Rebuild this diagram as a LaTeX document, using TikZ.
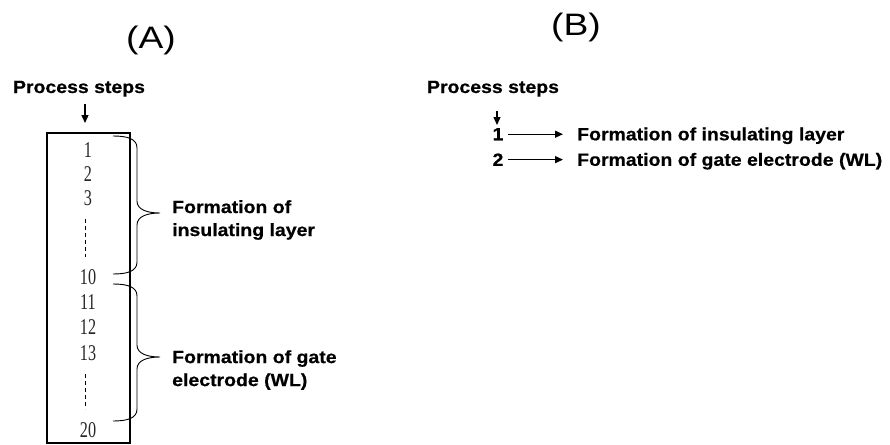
\documentclass[tikz,border=0pt]{standalone}
\usepackage{fontspec}
\setmainfont{Liberation Sans}
\newfontfamily\labfont{Liberation Sans}[FakeStretch=1.1,BoldFeatures={FakeBold=0.6}]
\newfontfamily\ttlfont{Liberation Sans}[FakeStretch=1.2]
\newfontfamily\numfont{Liberation Serif}[FakeStretch=0.72]
\usetikzlibrary{arrows.meta}
\begin{document}
\begin{tikzpicture}[x=1pt,y=-1pt,
  lbl/.style={font=\labfont\bfseries\fontsize{17.7}{23}\selectfont, inner sep=0pt, align=left},
  num/.style={font=\numfont\fontsize{22.5}{22.5}\selectfont, text=black!85, inner sep=0pt},
  ttl/.style={font=\ttlfont\fontsize{31}{31}\selectfont, inner sep=0pt},
  arr/.style={line width=1.3pt, -{Triangle[length=8pt,width=7pt]}},
  brc/.style={line width=0.9pt}]
\useasboundingbox (0,0) rectangle (890,444);
% (A)
\node[ttl] (titleA) at (151,40) {(A)};
\node[lbl, anchor=base] (stepsA) at (79,93) {Process steps};
\coordinate (downA) at (85,104);
\coordinate (boxtopA) at (85,123);
\draw[arr] (downA) -- (boxtopA);
\node[draw, line width=2.8pt, minimum width=83, minimum height=310] (box) at (88.5,288) {};
\foreach \n/\y in {1/150,2/174,3/198,10/277,11/302,12/327,13/353,20/430} {
  \node[num] (n\n) at (88,\y) {\n};
}
\draw[dashed, dash pattern=on 4pt off 3pt, line width=0.8pt] (n3.south) ++(-3,13) -- ++(0,38);
\draw[dashed, dash pattern=on 4pt off 3pt, line width=0.8pt] (n13.south) ++(-3,13) -- ++(0,35);
\foreach \t/\m/\b in {136/213/274,284/357/421} {
  \draw[brc] (113,\t) .. controls (128,\t) and (137,\t+3) .. (137,\t+12)
    -- (137,\m-12) .. controls (137,\m-3) and (148,\m) .. (160,\m)
    .. controls (148,\m) and (137,\m+3) .. (137,\m+12)
    -- (137,\b-12) .. controls (137,\b-3) and (128,\b) .. (113,\b);
}
\node[lbl, anchor=west] (insA) at (172,220) {Formation of\\insulating layer};
\node[lbl, anchor=west] (gateA) at (172,370) {Formation of gate\\electrode (WL)};
% (B)
\node[ttl] (titleB) at (576,27) {(B)};
\node[lbl, anchor=base] (stepsB) at (493,93) {Process steps};
\coordinate (downB) at (497,111);
\coordinate (oneB) at (497,125);
\draw[arr] (downB) -- (oneB);
\node[lbl, anchor=base] (b1) at (498,140.3) {1};
\node[lbl, anchor=base] (b2) at (498,165.8) {2};
\node[lbl, anchor=base west] (insB) at (577,140.3) {Formation of insulating layer};
\node[lbl, anchor=base west] (gateB) at (577,165.8) {Formation of gate electrode (WL)};
\draw[arr, shorten <=4pt, shorten >=14pt] (b1.east) -- (b1.east -| insB.west);
\draw[arr, shorten <=4pt, shorten >=14pt] (b2.east) -- (b2.east -| gateB.west);
\end{tikzpicture}
\end{document}
